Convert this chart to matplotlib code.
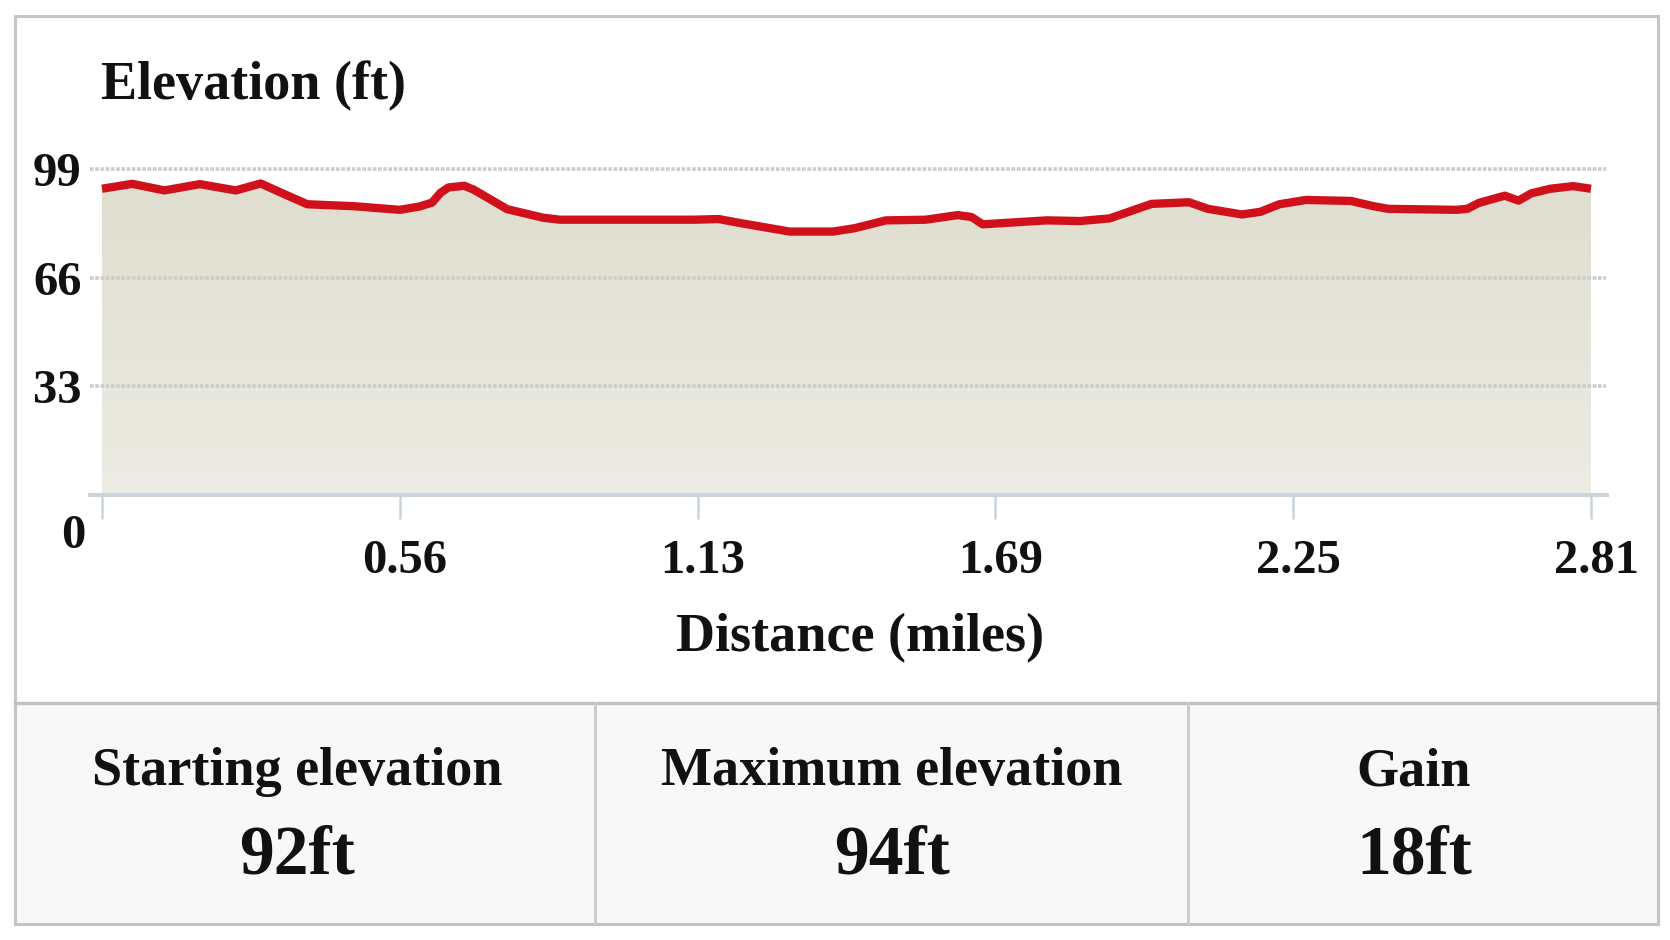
import matplotlib
matplotlib.use("Agg")
import matplotlib.pyplot as plt
import numpy as np
from matplotlib.lines import Line2D
from matplotlib.patches import Rectangle
from matplotlib.colors import LinearSegmentedColormap
from matplotlib.transforms import ScaledTranslation

# ---------------- data ----------------
distance_mi = [0, 0.057, 0.118, 0.185, 0.253, 0.30, 0.347, 0.388, 0.476, 0.563,
               0.600, 0.624, 0.640, 0.655, 0.685, 0.703, 0.766, 0.834, 0.866, 1.118, 1.166, 1.206,
               1.30, 1.382, 1.422, 1.482, 1.557, 1.618, 1.644, 1.665, 1.705, 1.786,
               1.849, 1.905, 1.984, 2.055, 2.091, 2.155, 2.19, 2.226, 2.276, 2.361,
               2.404, 2.432, 2.56, 2.581, 2.603, 2.652, 2.678, 2.702, 2.738, 2.781, 2.815]
elevation_ft = [93.0, 94.5, 92.5, 94.4, 92.5, 94.6, 91.2, 88.3, 87.7, 86.6,
                87.6, 88.8, 91.8, 93.4, 93.9, 92.7, 86.8, 84.2, 83.6, 83.6, 83.8, 82.6,
                80.0, 80.0, 81.0, 83.4, 83.6, 85.0, 84.4, 82.2, 82.6, 83.4,
                83.2, 84.0, 88.4, 88.9, 86.9, 85.2, 86.0, 88.3, 89.6, 89.3,
                87.7, 86.9, 86.6, 86.9, 88.7, 90.9, 89.4, 91.6, 93.0, 93.8, 93.0]
x_tick_values = [0, 0.563, 1.126, 1.689, 2.252, 2.815]
x_tick_labels = ["", "0.56", "1.13", "1.69", "2.25", "2.81"]
y_tick_values = [0, 33, 66, 99]
y_tick_labels = ["0", "33", "66", "99"]
stat_titles = ["Starting elevation", "Maximum elevation", "Gain"]
stat_values = ["92ft", "94ft", "18ft"]

# ---------------- layout helpers ----------------
W, H = 1670, 940
DPI = 100
FONT = "Liberation Serif"

def fx(x):
    return x / W

def fy(y):
    return 1 - y / H

fig = plt.figure(figsize=(W / DPI, H / DPI), dpi=DPI)
fig.patch.set_facecolor("white")

# plot area in pixels
ax_l, ax_r, ax_t, ax_b = 90, 1607, 169, 495
ax = fig.add_axes([fx(ax_l), fy(ax_b), (ax_r - ax_l) / W, (ax_b - ax_t) / H])
ax.set_facecolor("none")
for s in ax.spines.values():
    s.set_visible(False)

dist = np.array(distance_mi)
elev = np.array(elevation_ft)

# gradient fill under the profile
poly = ax.fill_between(dist, elev, 0, facecolor="none", edgecolor="none")
cmap = LinearSegmentedColormap.from_list("fill", ["#edece4", "#dfddce"])
grad = np.linspace(0, 1, 256).reshape(-1, 1)
im = ax.imshow(grad, extent=[dist[0], dist[-1], 0, 99], origin="lower",
               aspect="auto", cmap=cmap, zorder=1, interpolation="bicubic")
im.set_clip_path(poly.get_paths()[0], transform=ax.transData)

# limits matching pixel positions: 0 mi at px 102, last at px 1591
px_per_mi = (1591 - 102) / dist[-1]
ax.set_xlim(-(102 - ax_l) / px_per_mi, dist[-1] + (ax_r - 1591) / px_per_mi)
ax.set_ylim(0, 99)

# dotted gridlines
for v in y_tick_values[1:]:
    ax.axhline(v, xmin=0, xmax=(1606 - ax_l) / (ax_r - ax_l), color="#cccccc",
               lw=2.6, ls=(0, (1.0, 0.45)), zorder=2, clip_on=False)

# baseline axis line
ax.axhline(0, color="#c9d4dd", lw=2.9, zorder=2, clip_on=False)

# elevation line
ax.plot(dist, elev, color="#d0111b", lw=6.0, solid_joinstyle="round",
        solid_capstyle="butt", zorder=3, clip_on=False)

# ticks
ax.set_xticks(x_tick_values, labels=x_tick_labels)
ax.tick_params(axis="x", direction="out", length=17, width=1.8, color="#c9d4dd",
               pad=15, labelsize=35, labelcolor="#111111")
ax.set_yticks(y_tick_values, labels=y_tick_labels)
ax.tick_params(axis="y", length=0, pad=6, labelsize=35, labelcolor="#111111")
for lab in ax.get_xticklabels() + ax.get_yticklabels():
    lab.set_fontfamily(FONT)
    lab.set_fontweight("bold")
for lab in ax.get_xticklabels():
    lab.set_transform(lab.get_transform() +
                      ScaledTranslation(5 / DPI, 0, fig.dpi_scale_trans))
zero_lab = ax.get_yticklabels()[0]
zero_lab.set_transform(zero_lab.get_transform() +
                       ScaledTranslation(4 / DPI, -36 / DPI, fig.dpi_scale_trans))

# titles
fig.text(fx(101), fy(99), "Elevation (ft)", ha="left", va="baseline",
         fontsize=39, fontweight="bold", family=FONT, color="#111111")
fig.text(fx(860), fy(651), "Distance (miles)", ha="center", va="baseline",
         fontsize=39, fontweight="bold", family=FONT, color="#111111")

# table background
fig.add_artist(Rectangle((fx(15), fy(924)), (1658 - 15) / W, (924 - 703) / H,
                         transform=fig.transFigure, facecolor="#f8f8f8",
                         edgecolor="none", zorder=0))

border = "#c4c4c4"
# outer frame
fig.add_artist(Rectangle((fx(15), fy(924)), (1658 - 15) / W, (924 - 16) / H,
                         transform=fig.transFigure, facecolor="none",
                         edgecolor=border, lw=2.2, zorder=5))
# table separator and dividers
fig.add_artist(Line2D([fx(15), fx(1658)], [fy(703), fy(703)], transform=fig.transFigure,
                      color="#c0c0c0", lw=2.4, zorder=5))
for xd in (595, 1188):
    fig.add_artist(Line2D([fx(xd), fx(xd)], [fy(703), fy(924)], transform=fig.transFigure,
                          color="#c9c9c9", lw=2.0, zorder=5))

# stats
col_centers = [297, 892, 1414]
for cx, t, v in zip(col_centers, stat_titles, stat_values):
    fig.text(fx(cx), fy(785), t, ha="center", va="baseline", fontsize=39,
             fontweight="bold", family=FONT, color="#111111")
    fig.text(fx(cx), fy(873), v, ha="center", va="baseline", fontsize=50,
             fontweight="bold", family=FONT, color="#111111")

fig.savefig("out.png", dpi=DPI, facecolor="white")
